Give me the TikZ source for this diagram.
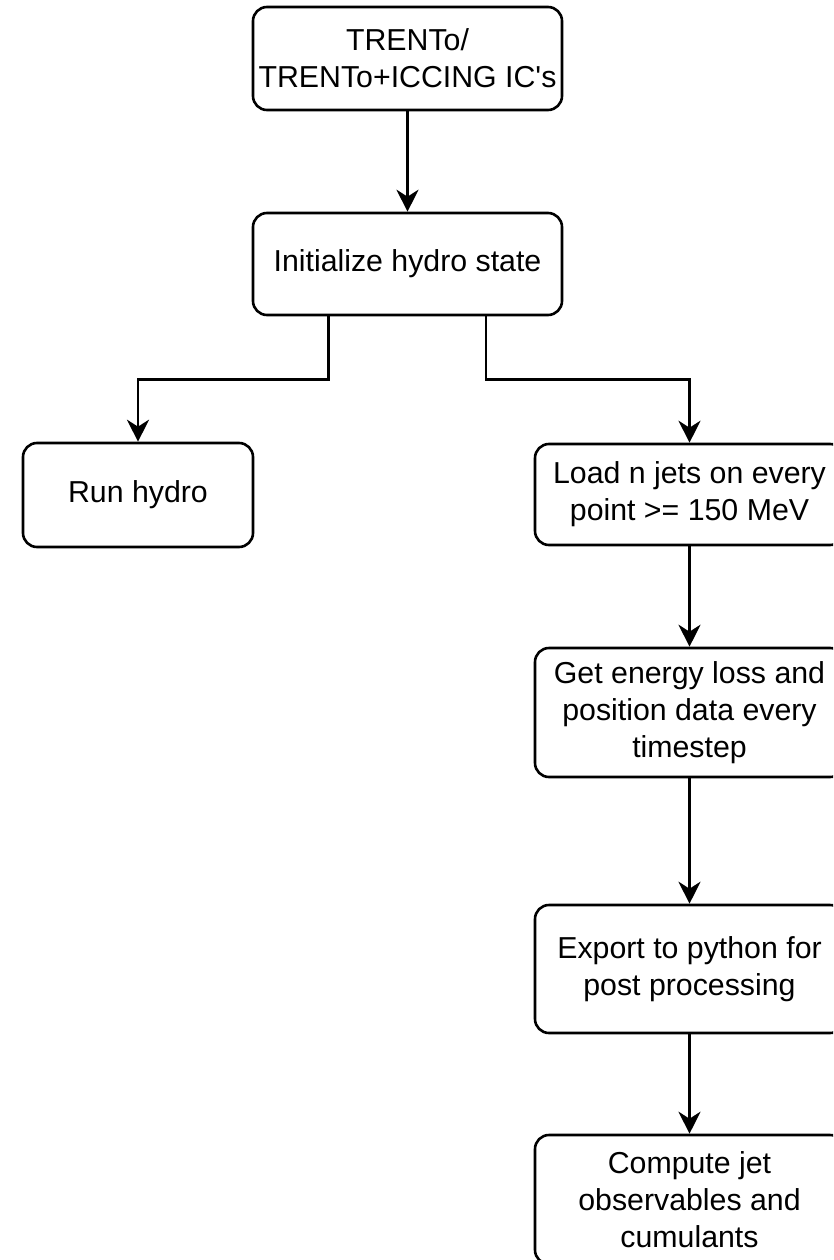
\documentclass[tikz,border=0pt]{standalone}
\usepackage{fontspec}
\setmainfont{Liberation Sans}
\usetikzlibrary{arrows.meta,calc}
\begin{document}
\begin{tikzpicture}[x=1pt,y=-1pt,
  box/.style={draw, line width=2.6pt, rounded corners=14pt, align=center,
    minimum width=309pt, inner sep=0pt,
    font=\fontsize{30.3}{37}\selectfont},
  arr/.style={line width=2.6pt, -{Stealth[length=22pt,width=22pt,inset=7pt]}}]
\useasboundingbox (0,0) rectangle (833,1260);
\clip (0,0) rectangle (833,1260);
\fill[white] (0,0) rectangle (833,1260);

\node[box, minimum height=103pt] (ic) at (407.5,58.5) {TRENTo/\\TRENTo+ICCING IC\textquotesingle s};
\node[box, minimum height=102pt] (init) at (407.5,264) {Initialize hydro state};
\node[box, minimum height=104pt, minimum width=230pt] (run) at (138,495) {Run hydro};
\node[box, minimum height=101pt] (load) at (689.5,494.5) {Load n jets on every\\point >= 150 MeV};
\node[box, minimum height=129pt] (eloss) at (689.5,712.5) {Get energy loss and\\position data every\\timestep};
\node[box, minimum height=128pt] (export) at (689.5,969) {Export to python for\\post processing};
\node[box, minimum height=129pt] (obs) at (689.5,1199.5) {Compute jet\\observables and\\cumulants};

\draw[arr] (ic) -- (init);
\coordinate (splitL) at ($(init.south west)!0.247!(init.south east)$);
\coordinate (splitR) at ($(init.south west)!0.752!(init.south east)$);
\draw[arr] (splitL) -- ++(0,63) -| (run.north);
\draw[arr] (splitR) -- ++(0,63) -| (load.north);
\draw[arr] (load) -- (eloss);
\draw[arr] (eloss) -- (export);
\draw[arr] (export) -- (obs);
\end{tikzpicture}
\end{document}
